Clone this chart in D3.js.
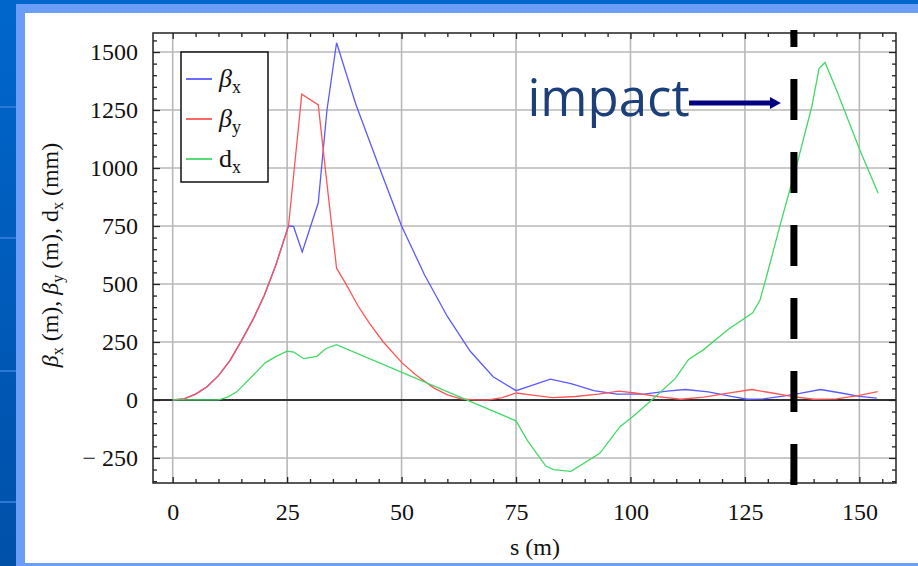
<!DOCTYPE html>
<html>
  <head>
    <meta charset="utf-8">
    <title>beta x, beta y, dx</title>
    <script src="https://d3js.org/d3.v7.min.js"></script>
    <style>
      body { margin: 0; overflow: hidden; }
      text { font-family: "Liberation Serif", "DejaVu Serif", serif; fill: #111; }
    </style>
  </head>
  <body>
    <svg></svg>
    <script>
      // beta x (m)
      const bxS = [0, 2.5, 5, 7.5, 10, 12.5, 15, 17.5, 20, 22.5, 25.3, 26.4, 28.3, 31.8, 33.7, 35.8, 40, 45, 50, 55, 60, 65, 70, 75, 78, 82.5, 87, 92, 97, 103, 108, 112, 117, 122, 125.5, 129, 133, 137, 141.5, 146, 150, 153.8]
      const bxV = [0, 5, 25, 57, 105, 170, 255, 345, 450, 580, 750, 748, 638, 850, 1250, 1540, 1275, 1010, 750, 540, 360, 210, 100, 40, 60, 90, 70, 40, 25, 25, 38, 45, 35, 15, 3, 5, 15, 28, 45, 30, 15, 8]

      // beta y (m)
      const byS = [0, 2.5, 5, 7.5, 10, 12.5, 15, 17.5, 20, 22.5, 25.3, 28.2, 31.8, 34, 35.8, 38, 40.5, 43, 46, 50, 53, 57, 60, 63, 66, 69, 72, 75, 79, 83, 88, 93, 97.5, 101, 106, 111, 116, 121, 126.5, 131, 135.5, 140, 145, 150, 154]
      const byV = [0, 5, 25, 57, 105, 170, 255, 345, 450, 580, 750, 1318, 1272, 880, 568, 495, 405, 330, 250, 162, 110, 52, 22, 5, 0, 0, 10, 30, 20, 10, 15, 25, 38, 30, 14, 3, 12, 28, 45, 30, 14, 3, 5, 20, 36]

      // dispersion dx (mm)
      const dxS = [0, 10, 12, 14, 17, 20.2, 22.5, 25, 26.5, 28.6, 31.5, 33.5, 35.8, 75, 77.5, 81.5, 83.2, 87, 93.3, 97.7, 100.6, 105.5, 109.8, 112.7, 115.9, 121.4, 126.7, 128.3, 129.7, 132.6, 134.8, 136.6, 139.6, 141.2, 142.5, 145, 150.1, 154.1]
      const dxV = [0, 0, 12, 35, 95, 160, 187, 210, 206, 178, 188, 222, 238, -90, -175, -285, -300, -308, -230, -115, -70, 15, 93, 175, 216, 305, 376, 431, 531, 747, 905, 1034, 1264, 1430, 1455, 1336, 1078, 891]

      const xTicks = [0, 25, 50, 75, 100, 125, 150]
      const yTicks = [-250, 0, 250, 500, 750, 1000, 1250, 1500]
      const impactS = 135.7

      const W = 918, H = 566
      const svg = d3.select('svg').attr('width', W).attr('height', H)

      // fond du slide
      const grad = svg.append('defs').append('linearGradient')
        .attr('id', 'bg').attr('x1', 0).attr('y1', 0).attr('x2', 0).attr('y2', 1)
      grad.append('stop').attr('offset', 0).attr('stop-color', '#0066cc')
      grad.append('stop').attr('offset', 1).attr('stop-color', '#0050a8')
      svg.append('rect').attr('width', W).attr('height', H).attr('fill', 'url(#bg)')
      svg.selectAll('.stripe').data([106, 237, 370, 501]).enter().append('rect')
        .attr('x', 0).attr('y', d => d).attr('width', 16).attr('height', 2)
        .attr('fill', '#2a78d6')
      svg.append('rect').attr('x', 16).attr('y', 4).attr('width', W - 16).attr('height', H - 4)
        .attr('fill', '#6b9cf6')
      svg.append('rect').attr('x', 25).attr('y', 13).attr('width', W - 25).attr('height', 550)
        .attr('fill', '#fff')

      const frame = { left: 153, right: 896, top: 33, bottom: 483 }
      const x = d3.scaleLinear().domain([-4.3, 158]).range([frame.left, frame.right])
      const y = d3.scaleLinear().domain([-358, 1582]).range([frame.bottom, frame.top])

      const xMinor = d3.range(0, 160, 5).filter(d => d % 25 !== 0)
      const yMinor = d3.range(-350, 1600, 50).filter(d => d % 250 !== 0)

      // grille
      svg.append('g').selectAll('line').data(xTicks).enter().append('line')
        .attr('x1', d => x(d)).attr('x2', d => x(d))
        .attr('y1', frame.top).attr('y2', frame.bottom)
        .attr('stroke', '#b8b8b8').attr('stroke-width', 1.6)
      svg.append('g').selectAll('line').data(yTicks.filter(d => d !== 0)).enter().append('line')
        .attr('x1', frame.left).attr('x2', frame.right)
        .attr('y1', d => y(d)).attr('y2', d => y(d))
        .attr('stroke', '#b8b8b8').attr('stroke-width', 1.6)
      svg.append('line')
        .attr('x1', frame.left).attr('x2', frame.right)
        .attr('y1', y(0)).attr('y2', y(0))
        .attr('stroke', '#333').attr('stroke-width', 2)

      // axes (ticks vers l'intérieur)
      const fmt = d => d < 0 ? '\u2212 ' + Math.abs(d) : String(d)
      function styleAxis(g) {
        g.select('.domain').remove()
        g.selectAll('line').attr('stroke', '#222').attr('stroke-width', 1.3)
        g.selectAll('text').style('font-size', '24px').attr('fill', '#111')
      }
      svg.append('g').attr('transform', `translate(0,${frame.bottom})`)
        .call(d3.axisBottom(x).tickValues(xTicks).tickFormat(fmt).tickSize(-6).tickPadding(20))
        .call(styleAxis)
      svg.append('g').attr('transform', `translate(0,${frame.bottom})`)
        .call(d3.axisBottom(x).tickValues(xMinor).tickFormat('').tickSize(-4))
        .call(styleAxis)
      svg.append('g').attr('transform', `translate(0,${frame.top})`)
        .call(d3.axisTop(x).tickValues(xTicks).tickFormat('').tickSize(-6))
        .call(styleAxis)
      svg.append('g').attr('transform', `translate(0,${frame.top})`)
        .call(d3.axisTop(x).tickValues(xMinor).tickFormat('').tickSize(-4))
        .call(styleAxis)
      svg.append('g').attr('transform', `translate(${frame.left},0)`)
        .call(d3.axisLeft(y).tickValues(yTicks).tickFormat(fmt).tickSize(-7).tickPadding(15))
        .call(styleAxis)
      svg.append('g').attr('transform', `translate(${frame.left},0)`)
        .call(d3.axisLeft(y).tickValues(yMinor).tickFormat('').tickSize(-4))
        .call(styleAxis)
      svg.append('g').attr('transform', `translate(${frame.right},0)`)
        .call(d3.axisRight(y).tickValues(yTicks).tickFormat('').tickSize(-7))
        .call(styleAxis)
      svg.append('g').attr('transform', `translate(${frame.right},0)`)
        .call(d3.axisRight(y).tickValues(yMinor).tickFormat('').tickSize(-4))
        .call(styleAxis)

      svg.append('rect')
        .attr('x', frame.left).attr('y', frame.top)
        .attr('width', frame.right - frame.left).attr('height', frame.bottom - frame.top)
        .attr('fill', 'none').attr('stroke', '#222').attr('stroke-width', 1.5)

      // courbes (ordre de dessin : bleu, rouge, vert)
      const series = [
        { s: bxS, v: bxV, color: '#5a5aff', name: 'β', it: true, sub: 'x' },
        { s: byS, v: byV, color: '#ff5555', name: 'β', it: true, sub: 'y' },
        { s: dxS, v: dxV, color: '#44d866', name: 'd', it: false, sub: 'x' }
      ]
      const line = d3.line().x(d => x(d[0])).y(d => y(d[1]))
      svg.append('g').selectAll('path').data(series).enter().append('path')
        .attr('d', d => line(d.s.map((s, i) => [s, d.v[i]])))
        .attr('fill', 'none')
        .attr('stroke', d => d.color)
        .attr('stroke-width', 1.3)

      // légende
      const leg = svg.append('g').attr('transform', 'translate(181,52)')
      leg.append('rect').attr('width', 87).attr('height', 130)
        .attr('fill', '#fff').attr('stroke', '#111').attr('stroke-width', 1.5)
      const row = leg.selectAll('.row').data(series).enter().append('g')
        .attr('transform', (d, i) => `translate(0,${27 + i * 40})`)
      row.append('line').attr('x1', 5).attr('x2', 31)
        .attr('stroke', d => d.color).attr('stroke-width', 1.8)
      const lt = row.append('text').attr('x', 38).attr('y', 8).style('font-size', '26px')
      lt.append('tspan').text(d => d.name).style('font-style', d => d.it ? 'italic' : 'normal')
      lt.append('tspan').attr('dy', 6).style('font-size', '18px').text(d => d.sub)

      // titres des axes
      svg.append('text')
        .attr('x', 535).attr('y', 555)
        .attr('text-anchor', 'middle')
        .style('font-size', '24px')
        .text('s (m)')

      const yl = svg.append('text')
        .attr('transform', 'translate(58,255) rotate(-90)')
        .attr('text-anchor', 'middle')
        .style('font-size', '24px')
      const parts = [['β', 'x', ' (m), '], ['β', 'y', ' (m), '], ['d', 'x', ' (mm)']]
      parts.forEach(p => {
        yl.append('tspan').text(p[0]).style('font-style', p[0] === 'β' ? 'italic' : 'normal')
        yl.append('tspan').attr('dy', 5).style('font-size', '16px').text(p[1])
        yl.append('tspan').attr('dy', -5).text(p[2])
      })

      // ligne d'impact
      svg.append('line')
        .attr('x1', x(impactS)).attr('x2', x(impactS))
        .attr('y1', 30).attr('y2', 485)
        .attr('stroke', '#000').attr('stroke-width', 7)
        .attr('stroke-dasharray', '41,32').attr('stroke-dashoffset', 24)

      const ay = y(1280)
      svg.append('text')
        .attr('x', x(77.5)).attr('y', ay + 13)
        .style('font-family', '"Open Sans", "Noto Sans", sans-serif')
        .style('font-size', '51px')
        .style('fill', '#1b3f78')
        .text('impact')
      svg.append('line')
        .attr('x1', x(112.8)).attr('x2', x(impactS) - 22)
        .attr('y1', ay).attr('y2', ay)
        .attr('stroke', '#000080').attr('stroke-width', 5)
      svg.append('path')
        .attr('d', `M${x(impactS) - 24},${ay - 6}L${x(impactS) - 13},${ay}L${x(impactS) - 24},${ay + 6}Z`)
        .attr('fill', '#000080')
    </script>
  </body>
</html>
